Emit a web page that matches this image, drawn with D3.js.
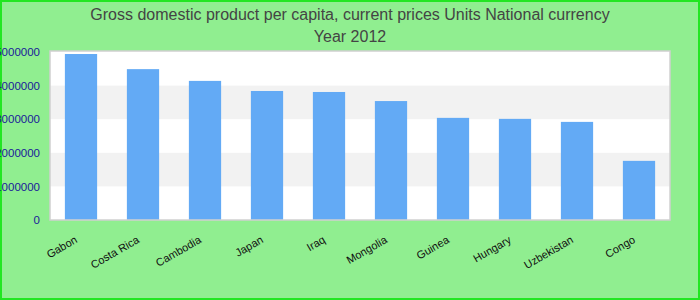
<!DOCTYPE html>
<html lang="en">
<head>
    <meta charset="UTF-8">
    <title>GDP per capita 2012</title>
    <script src="https://d3js.org/d3.v7.min.js"></script>
    <style>
        body { margin: 0; }
    </style>
</head>
<body>
    <script>
        var countries = ["Gabon", "Costa Rica", "Cambodia", "Japan", "Iraq", "Mongolia", "Guinea", "Hungary", "Uzbekistan", "Congo"];
        var gdpValues = [4940000, 4490000, 4140000, 3840000, 3810000, 3540000, 3040000, 3010000, 2920000, 1760000];
        var yTicks = [0, 1000000, 2000000, 3000000, 4000000, 5000000];
        var titleLines = ["Gross domestic product per capita, current prices Units National currency", "Year 2012"];

        var width = 700, height = 300;
        var plot = { left: 50, right: 670, top: 51, bottom: 220 };

        var svg = d3.select("body")
            .append("svg")
            .attr("width", width)
            .attr("height", height);

        // background + outer border
        svg.append("rect")
            .attr("x", 1).attr("y", 1)
            .attr("width", width - 2).attr("height", height - 2)
            .attr("fill", "#90ee90")
            .attr("stroke", "#22e622")
            .attr("stroke-width", 2);

        var x = d3.scaleBand()
            .domain(countries)
            .range([plot.left, plot.right])
            .paddingInner(0.48)
            .paddingOuter(0.24);

        var y = d3.scaleLinear()
            .domain([0, 5000000])
            .range([plot.bottom, plot.top + 1]);

        // plot area
        svg.append("rect")
            .attr("x", plot.left).attr("y", plot.top)
            .attr("width", plot.right - plot.left).attr("height", plot.bottom - plot.top)
            .attr("fill", "white");

        // alternating bands
        for (var i = 0; i < yTicks.length - 1; i++) {
            if (i % 2 == 1) {
                svg.append("rect")
                    .attr("x", plot.left)
                    .attr("y", y(yTicks[i + 1]))
                    .attr("width", plot.right - plot.left)
                    .attr("height", y(yTicks[i]) - y(yTicks[i + 1]))
                    .attr("fill", "#f2f2f2");
            }
        }

        svg.selectAll(".bar")
            .data(gdpValues)
            .enter().append("rect")
            .attr("class", "bar")
            .attr("x", (d, i) => x(countries[i]))
            .attr("y", d => y(d))
            .attr("width", x.bandwidth())
            .attr("height", d => plot.bottom - y(d))
            .attr("fill", "#63aaf5");

        svg.append("rect")
            .attr("x", plot.left).attr("y", plot.top)
            .attr("width", plot.right - plot.left).attr("height", plot.bottom - plot.top)
            .attr("fill", "none")
            .attr("stroke", "#d0d0d0")
            .attr("stroke-width", 1.5);

        // y axis labels
        var yAxis = d3.axisLeft(y)
            .tickValues(yTicks)
            .tickFormat(d3.format("d"))
            .tickSize(0)
            .tickPadding(10);

        var gy = svg.append("g")
            .attr("transform", "translate(" + plot.left + ",0)")
            .call(yAxis);
        gy.select(".domain").remove();
        gy.selectAll("text")
            .attr("fill", "#1a1a99")
            .style("font-family", "Liberation Sans, Arial, sans-serif")
            .style("font-size", "11.5px");

        // x axis labels
        var xAxis = d3.axisBottom(x).tickSize(0).tickPadding(0);
        var gx = svg.append("g")
            .attr("transform", "translate(0," + plot.bottom + ")")
            .call(xAxis);
        gx.select(".domain").remove();
        gx.selectAll("text")
            .attr("fill", "#111")
            .style("font-family", "Liberation Sans, Arial, sans-serif")
            .style("font-size", "11px")
            .attr("text-anchor", "end")
            .attr("dy", 0)
            .attr("y", 0)
            .attr("transform", "translate(-3,22) rotate(-30)");

        // title
        svg.selectAll(".title")
            .data(titleLines)
            .enter().append("text")
            .attr("class", "title")
            .attr("x", width / 2)
            .attr("y", (d, i) => 20 + i * 22)
            .attr("text-anchor", "middle")
            .attr("fill", "#444")
            .style("font-family", "Liberation Sans, Arial, sans-serif")
            .style("font-size", "16px")
            .text(d => d);
    </script>
</body>
</html>
